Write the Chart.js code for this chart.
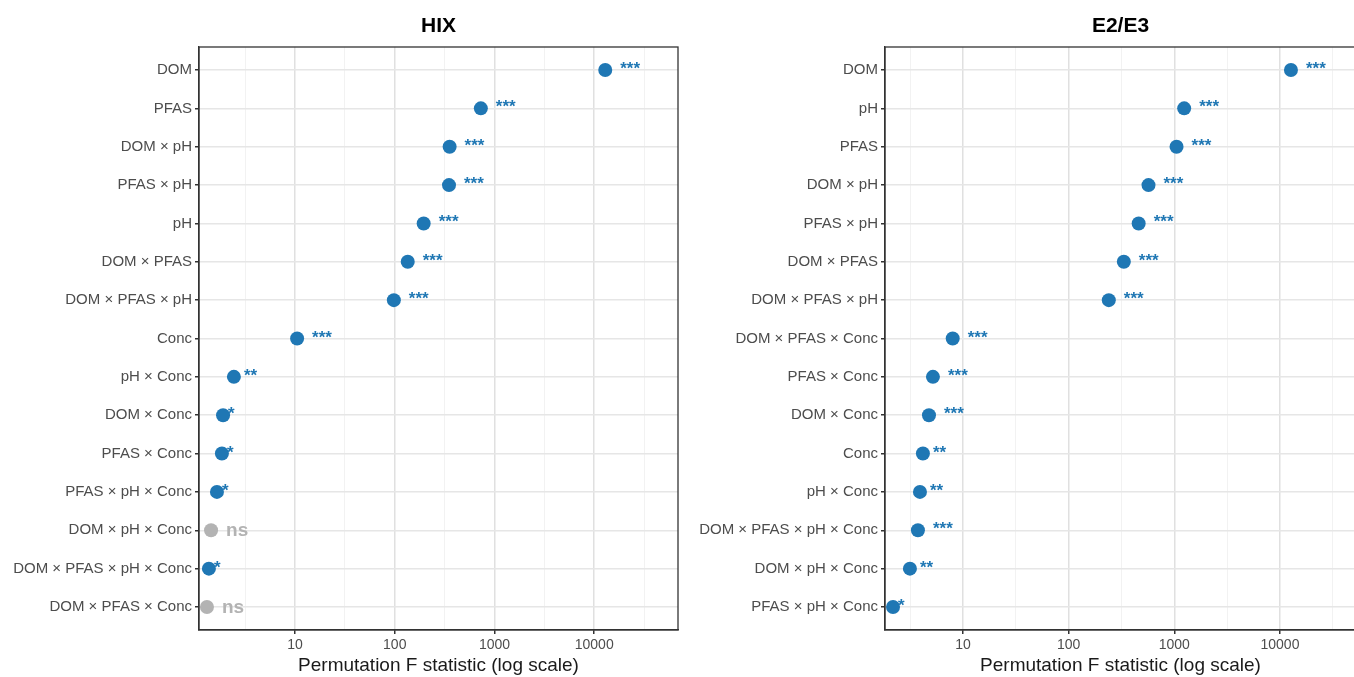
<!DOCTYPE html>
<html>
<head>
<meta charset="utf-8">
<script src="https://cdn.jsdelivr.net/npm/chart.js@4.4.1/dist/chart.umd.min.js"></script>
<style>
  html, body { margin: 0; padding: 0; background: #fff; overflow: hidden; }
  .panel { position: absolute; top: 0; height: 677px; }
</style>
</head>
<body>
<div class="panel" style="left:0;width:690px"><canvas id="chartHix"></canvas></div>
<div class="panel" style="left:690px;width:680px"><canvas id="chartE2"></canvas></div>
<script>
// HIX panel
const hixTerms = ["DOM", "PFAS", "DOM × pH", "PFAS × pH", "pH", "DOM × PFAS", "DOM × PFAS × pH", "Conc",
  "pH × Conc", "DOM × Conc", "PFAS × Conc", "PFAS × pH × Conc", "DOM × pH × Conc", "DOM × PFAS × pH × Conc", "DOM × PFAS × Conc"];
const hixF = [12900, 730, 355, 350, 195, 135, 98, 10.5, 2.44, 1.9, 1.85, 1.65, 1.44, 1.37, 1.31];
const hixSig = ["***", "***", "***", "***", "***", "***", "***", "***", "**", "*", "*", "*", "ns", "*", "ns"];

// E2/E3 panel
const e2Terms = ["DOM", "pH", "PFAS", "DOM × pH", "PFAS × pH", "DOM × PFAS", "DOM × PFAS × pH", "DOM × PFAS × Conc",
  "PFAS × Conc", "DOM × Conc", "Conc", "pH × Conc", "DOM × PFAS × pH × Conc", "DOM × pH × Conc", "PFAS × pH × Conc"];
const e2F = [12700, 1240, 1050, 570, 460, 333, 240, 8.0, 5.2, 4.77, 4.18, 3.92, 3.75, 3.15, 2.18];
const e2Sig = ["***", "***", "***", "***", "***", "***", "***", "***", "***", "***", "**", "**", "***", "**", "*"];

const logTicks = [Math.pow(10, 0.5), 10, Math.pow(10, 1.5), 100, Math.pow(10, 2.5), 1000, Math.pow(10, 3.5), 10000, Math.pow(10, 4.5)];
const majorTicks = [10, 100, 1000, 10000];

const BLUE = "#1f77b4";
const GREY = "#b3b3b3";
const FONT = "'Liberation Sans', Arial, sans-serif";

function isMajor(v) {
  return majorTicks.some((m) => Math.abs(v - m) < 1e-6);
}

// labels next to the points + panel border + title
const sigPlugin = {
  id: "sigLabels",
  afterDatasetsDraw(chart, args, opts) {
    const ctx = chart.ctx;
    const meta = chart.getDatasetMeta(0);
    ctx.save();
    ctx.textBaseline = "alphabetic";
    meta.data.forEach((pt, i) => {
      const s = opts.sig[i];
      if (s === "ns") {
        ctx.font = "bold 19px " + FONT;
        ctx.fillStyle = GREY;
        ctx.fillText(s, pt.x + 15, pt.y + 6);
      } else {
        ctx.font = "bold 17px " + FONT;
        ctx.fillStyle = BLUE;
        ctx.fillText(s, pt.x + 5 * s.length, pt.y + 4);
      }
    });
    ctx.restore();
  },
  afterDraw(chart, args, opts) {
    const ctx = chart.ctx;
    const a = chart.chartArea;
    ctx.save();
    ctx.strokeStyle = "#333333";
    ctx.lineWidth = 1.3;
    ctx.strokeRect(a.left, a.top, a.right - a.left, a.bottom - a.top);
    ctx.font = "bold 21px " + FONT;
    ctx.fillStyle = "#000";
    ctx.textAlign = "center";
    ctx.textBaseline = "middle";
    ctx.fillText(opts.title, (a.left + a.right) / 2, 26);
    ctx.restore();
  },
};

function makeChart(el, terms, values, sig, title, xMin, xMax, yWidth, padRight) {
  return new Chart(document.getElementById(el), {
    type: "scatter",
    data: {
      datasets: [
        {
          data: values.map((v, i) => ({ x: v, y: i })),
          pointRadius: 7,
          pointHoverRadius: 7,
          borderWidth: 0,
          backgroundColor: sig.map((s) => (s === "ns" ? GREY : BLUE)),
        },
      ],
    },
    options: {
      responsive: true,
      maintainAspectRatio: false,
      animation: false,
      layout: { padding: { top: 47, left: 0, right: padRight, bottom: 0 } },
      scales: {
        x: {
          type: "logarithmic",
          min: xMin,
          max: xMax,
          afterBuildTicks: (s) => {
            s.ticks = logTicks.filter((v) => v >= xMin && v <= xMax).map((v) => ({ value: v, major: isMajor(v) }));
          },
          afterFit: (s) => { s.height = 47; },
          ticks: {
            autoSkip: false,
            maxRotation: 0,
            padding: 3,
            color: "#4d4d4d",
            font: { family: FONT, size: 14 },
            callback: (v) => (isMajor(v) ? String(Math.round(v)) : ""),
          },
          grid: {
            color: (c) => (c.tick && isMajor(c.tick.value) ? "#e0e0e0" : "#f2f2f2"),
            lineWidth: (c) => (c.tick && isMajor(c.tick.value) ? 1.5 : 1),
            tickColor: (c) => (c.tick && isMajor(c.tick.value) ? "#333333" : "rgba(0,0,0,0)"),
            tickLength: 4,
          },
          border: { color: "#333333", width: 1.3 },
          title: {
            display: true,
            text: "Permutation F statistic (log scale)",
            color: "#1a1a1a",
            font: { family: FONT, size: 19 },
            padding: { top: 0, bottom: 0 },
          },
        },
        y: {
          type: "linear",
          reverse: true,
          min: -0.6,
          max: terms.length - 0.4,
          afterBuildTicks: (s) => {
            s.ticks = terms.map((t, i) => ({ value: i }));
          },
          afterFit: (s) => { s.width = yWidth; },
          ticks: {
            autoSkip: false,
            padding: 3,
            color: "#4d4d4d",
            font: { family: FONT, size: 15 },
            callback: (v) => terms[v] || "",
          },
          grid: {
            color: "#e6e6e6",
            lineWidth: 1.5,
            tickColor: "#333333",
            tickLength: 4,
          },
          border: { color: "#333333", width: 1.3 },
        },
      },
      plugins: {
        legend: { display: false },
        tooltip: { enabled: false },
        sigLabels: { sig: sig, title: title },
      },
    },
    plugins: [sigPlugin],
  });
}

makeChart("chartHix", hixTerms, hixF, hixSig, "HIX", 1.09, 69200, 199, 12);
makeChart("chartE2", e2Terms, e2F, e2Sig, "E2/E3", 1.83, 52400, 195, 14);
</script>
</body>
</html>
